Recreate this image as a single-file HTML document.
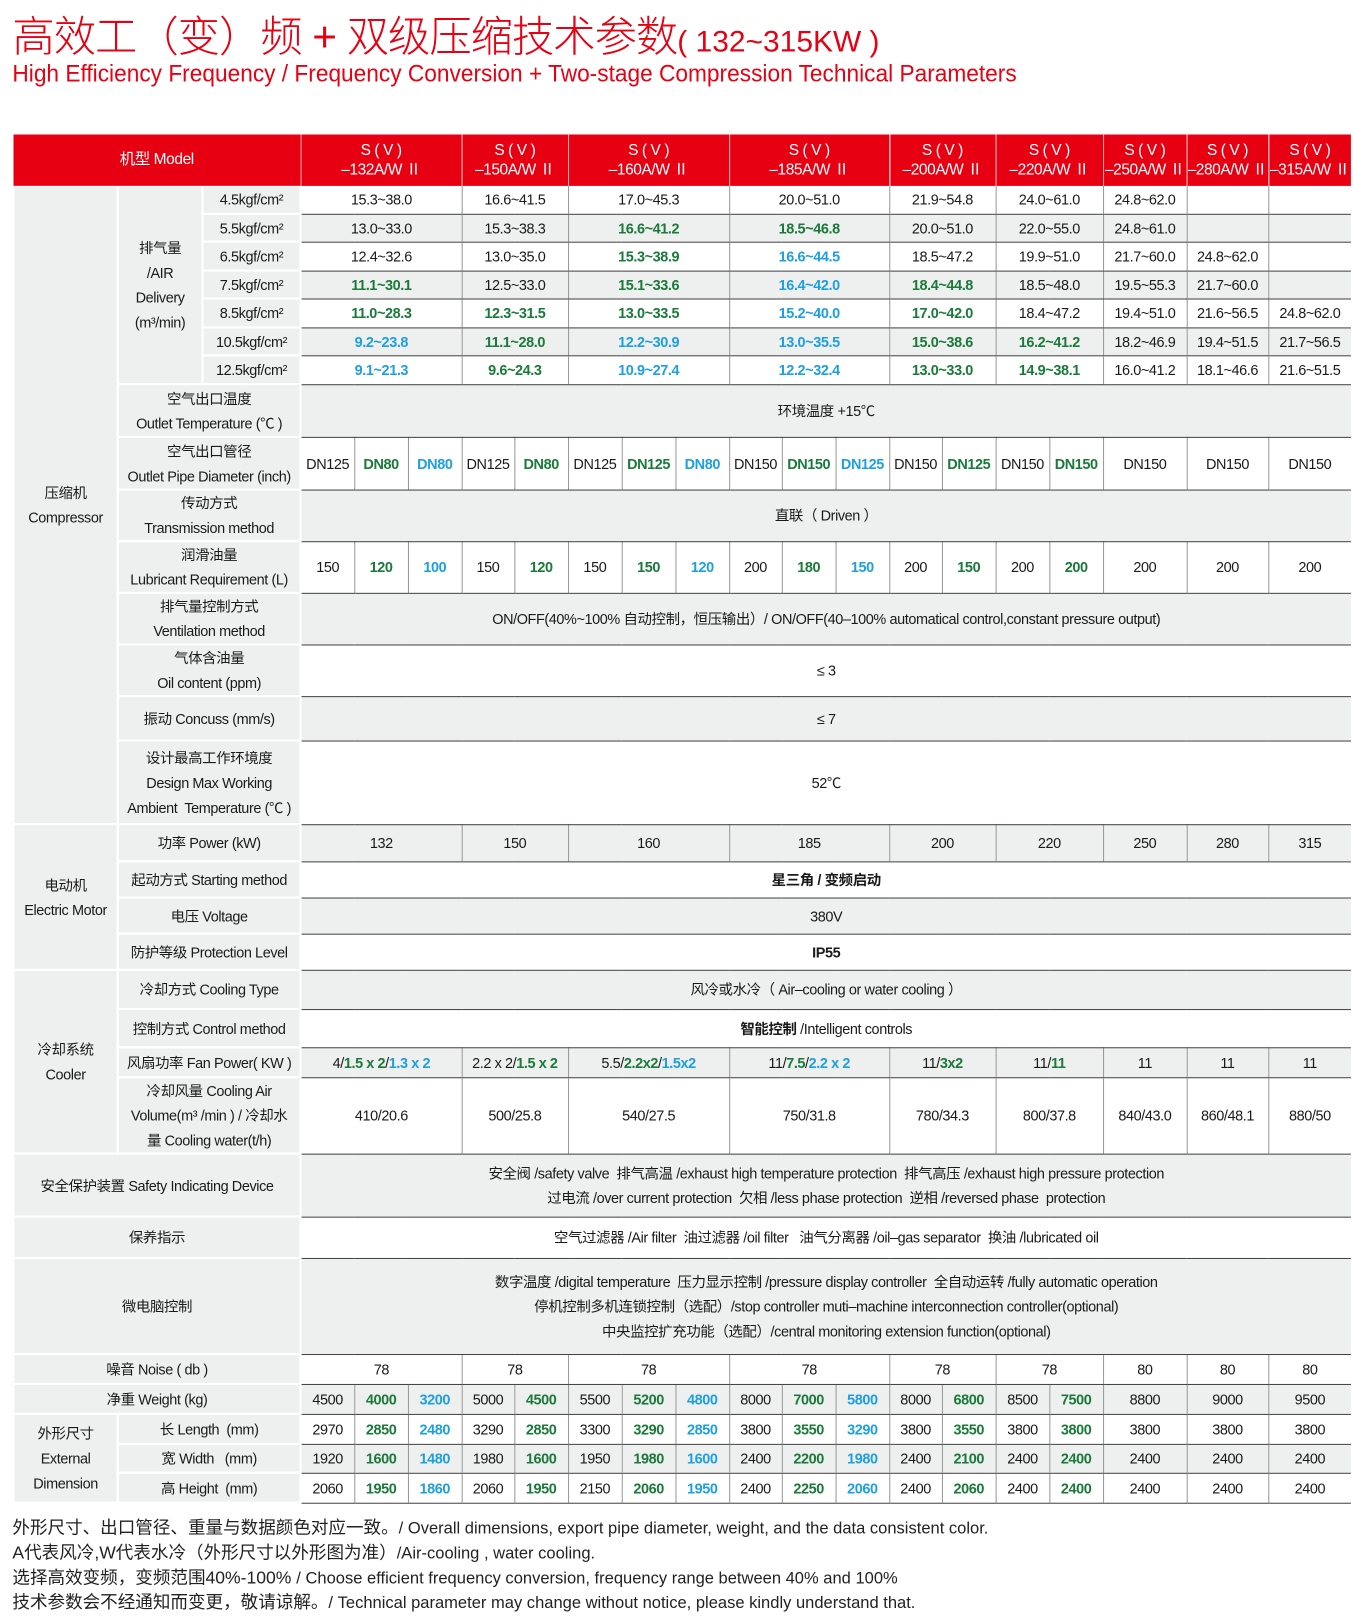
<!DOCTYPE html>
<html><head><meta charset="utf-8">
<style>
*{margin:0;padding:0;box-sizing:border-box}
html,body{width:1353px;height:1622px;background:#fff;overflow:hidden}
#w{position:absolute;left:0;top:0;width:1310px;height:1570px;transform:scale(1.0328);transform-origin:0 0;font-family:"Liberation Sans","Noto Sans CJK SC",sans-serif;color:#1a1a1a}
.t1{position:absolute;left:12px;top:2px;font-size:41px;color:#e60012;white-space:nowrap;font-family:"Liberation Sans","Noto Sans CJK SC",sans-serif;font-weight:300;letter-spacing:-1px}
.t1 small{font-size:29px;letter-spacing:0;font-weight:normal}
.t2{position:absolute;left:12px;top:58px;font-size:23px;color:#e60012;white-space:nowrap;transform:scaleX(0.955);transform-origin:0 0}
table{position:absolute;left:12px;top:130px;border-collapse:collapse;table-layout:fixed;width:1295px}
td{text-align:center;vertical-align:middle;font-size:14px;letter-spacing:-0.4px;line-height:24px;padding:0;white-space:nowrap;overflow:hidden}
td.l{background:#eeefef;border:2px solid #fff;border-top:1.5px solid #fff}
td.d{border-bottom:1.5px solid #444;border-left:1px solid #999}
tr.gr td.d{background:#eeefef}
tr.h td{background:#e60012;color:#fff;border-left:1px solid #f5a0a0;line-height:19px;font-size:15px}
tr.h td:first-child{border-left:none}
.g{color:#1a7a3a;font-weight:bold}
.b{color:#1ea0e0;font-weight:bold}
.f{position:absolute;left:12px;font-size:17px;white-space:nowrap;color:#222}
.f span{font-size:16px}
</style></head><body><div id="w">
<div class="t1">高效工（变）频 + 双级压缩技术参数<small>( 132~315KW )</small></div>
<div class="t2">High Efficiency Frequency / Frequency Conversion + Two-stage Compression Technical Parameters</div>
<table>
<colgroup><col style="width:101px"><col style="width:82px"><col style="width:95px"><col style="width:52px"><col style="width:52px"><col style="width:52px"><col style="width:51px"><col style="width:52px"><col style="width:52px"><col style="width:52px"><col style="width:52px"><col style="width:51px"><col style="width:52px"><col style="width:52px"><col style="width:51px"><col style="width:52px"><col style="width:52px"><col style="width:52px"><col style="width:81px"><col style="width:79px"><col style="width:80px"></colgroup>
<tr class="h" style="height:50px"><td colspan="3">机型 Model</td><td colspan="3">S ( V )<br>–132A/W Ⅱ</td><td colspan="2">S ( V )<br>–150A/W Ⅱ</td><td colspan="3">S ( V )<br>–160A/W Ⅱ</td><td colspan="3">S ( V )<br>–185A/W Ⅱ</td><td colspan="2">S ( V )<br>–200A/W Ⅱ</td><td colspan="2">S ( V )<br>–220A/W Ⅱ</td><td>S ( V )<br>–250A/W Ⅱ</td><td>S ( V )<br>–280A/W Ⅱ</td><td>S ( V )<br>–315A/W Ⅱ</td></tr>
<tr style="height:27px"><td class="l" rowspan="15">压缩机<br>Compressor</td><td class="l" rowspan="7">排气量<br>/AIR<br>Delivery<br>(m³/min)</td><td class="l">4.5kgf/cm²</td><td class="d" colspan="3">15.3~38.0</td><td class="d" colspan="2">16.6~41.5</td><td class="d" colspan="3">17.0~45.3</td><td class="d" colspan="3">20.0~51.0</td><td class="d" colspan="2">21.9~54.8</td><td class="d" colspan="2">24.0~61.0</td><td class="d">24.8~62.0</td><td class="d"></td><td class="d"></td></tr>
<tr class="gr" style="height:27px"><td class="l">5.5kgf/cm²</td><td class="d" colspan="3">13.0~33.0</td><td class="d" colspan="2">15.3~38.3</td><td class="d g" colspan="3">16.6~41.2</td><td class="d g" colspan="3">18.5~46.8</td><td class="d" colspan="2">20.0~51.0</td><td class="d" colspan="2">22.0~55.0</td><td class="d">24.8~61.0</td><td class="d"></td><td class="d"></td></tr>
<tr style="height:28px"><td class="l">6.5kgf/cm²</td><td class="d" colspan="3">12.4~32.6</td><td class="d" colspan="2">13.0~35.0</td><td class="d g" colspan="3">15.3~38.9</td><td class="d b" colspan="3">16.6~44.5</td><td class="d" colspan="2">18.5~47.2</td><td class="d" colspan="2">19.9~51.0</td><td class="d">21.7~60.0</td><td class="d">24.8~62.0</td><td class="d"></td></tr>
<tr class="gr" style="height:27px"><td class="l">7.5kgf/cm²</td><td class="d g" colspan="3">11.1~30.1</td><td class="d" colspan="2">12.5~33.0</td><td class="d g" colspan="3">15.1~33.6</td><td class="d b" colspan="3">16.4~42.0</td><td class="d g" colspan="2">18.4~44.8</td><td class="d" colspan="2">18.5~48.0</td><td class="d">19.5~55.3</td><td class="d">21.7~60.0</td><td class="d"></td></tr>
<tr style="height:28px"><td class="l">8.5kgf/cm²</td><td class="d g" colspan="3">11.0~28.3</td><td class="d g" colspan="2">12.3~31.5</td><td class="d g" colspan="3">13.0~33.5</td><td class="d b" colspan="3">15.2~40.0</td><td class="d g" colspan="2">17.0~42.0</td><td class="d" colspan="2">18.4~47.2</td><td class="d">19.4~51.0</td><td class="d">21.6~56.5</td><td class="d">24.8~62.0</td></tr>
<tr class="gr" style="height:27px"><td class="l">10.5kgf/cm²</td><td class="d b" colspan="3">9.2~23.8</td><td class="d g" colspan="2">11.1~28.0</td><td class="d b" colspan="3">12.2~30.9</td><td class="d b" colspan="3">13.0~35.5</td><td class="d g" colspan="2">15.0~38.6</td><td class="d g" colspan="2">16.2~41.2</td><td class="d">18.2~46.9</td><td class="d">19.4~51.5</td><td class="d">21.7~56.5</td></tr>
<tr style="height:28px"><td class="l">12.5kgf/cm²</td><td class="d b" colspan="3">9.1~21.3</td><td class="d g" colspan="2">9.6~24.3</td><td class="d b" colspan="3">10.9~27.4</td><td class="d b" colspan="3">12.2~32.4</td><td class="d g" colspan="2">13.0~33.0</td><td class="d g" colspan="2">14.9~38.1</td><td class="d">16.0~41.2</td><td class="d">18.1~46.6</td><td class="d">21.6~51.5</td></tr>
<tr class="gr" style="height:51px"><td class="l" colspan="2">空气出口温度<br>Outlet Temperature (℃ )</td><td class="d" colspan="18">环境温度 +15℃</td></tr>
<tr style="height:51px"><td class="l" colspan="2">空气出口管径<br>Outlet Pipe Diameter (inch)</td><td class="d">DN125</td><td class="d g">DN80</td><td class="d b">DN80</td><td class="d">DN125</td><td class="d g">DN80</td><td class="d">DN125</td><td class="d g">DN125</td><td class="d b">DN80</td><td class="d">DN150</td><td class="d g">DN150</td><td class="d b">DN125</td><td class="d">DN150</td><td class="d g">DN125</td><td class="d">DN150</td><td class="d g">DN150</td><td class="d">DN150</td><td class="d">DN150</td><td class="d">DN150</td></tr>
<tr class="gr" style="height:50px"><td class="l" colspan="2">传动方式<br>Transmission method</td><td class="d" colspan="18">直联（ Driven ）</td></tr>
<tr style="height:50px"><td class="l" colspan="2">润滑油量<br>Lubricant Requirement (L)</td><td class="d">150</td><td class="d g">120</td><td class="d b">100</td><td class="d">150</td><td class="d g">120</td><td class="d">150</td><td class="d g">150</td><td class="d b">120</td><td class="d">200</td><td class="d g">180</td><td class="d b">150</td><td class="d">200</td><td class="d g">150</td><td class="d">200</td><td class="d g">200</td><td class="d">200</td><td class="d">200</td><td class="d">200</td></tr>
<tr class="gr" style="height:50px"><td class="l" colspan="2">排气量控制方式<br>Ventilation method</td><td class="d" colspan="18">ON/OFF(40%~100% 自动控制，恒压输出）/ ON/OFF(40–100% automatical control,constant pressure output)</td></tr>
<tr style="height:48px"><td class="l" colspan="2">气体含油量<br>Oil content (ppm)</td><td class="d" colspan="18">≤ 3</td></tr>
<tr class="gr" style="height:43px"><td class="l" colspan="2">振动 Concuss (mm/s)</td><td class="d" colspan="18">≤ 7</td></tr>
<tr style="height:81px"><td class="l" colspan="2">设计最高工作环境度<br>Design Max Working<br>Ambient&nbsp; Temperature (℃ )</td><td class="d" colspan="18">52℃</td></tr>
<tr class="gr" style="height:36px"><td class="l" rowspan="4">电动机<br>Electric Motor</td><td class="l" colspan="2">功率 Power (kW)</td><td class="d" colspan="3">132</td><td class="d" colspan="2">150</td><td class="d" colspan="3">160</td><td class="d" colspan="3">185</td><td class="d" colspan="2">200</td><td class="d" colspan="2">220</td><td class="d">250</td><td class="d">280</td><td class="d">315</td></tr>
<tr style="height:35px"><td class="l" colspan="2">起动方式 Starting method</td><td class="d" colspan="18"><b>星三角 / 变频启动</b></td></tr>
<tr class="gr" style="height:35px"><td class="l" colspan="2">电压 Voltage</td><td class="d" colspan="18">380V</td></tr>
<tr style="height:35px"><td class="l" colspan="2">防护等级 Protection Level</td><td class="d" colspan="18"><b>IP55</b></td></tr>
<tr class="gr" style="height:38px"><td class="l" rowspan="4">冷却系统<br>Cooler</td><td class="l" colspan="2">冷却方式 Cooling Type</td><td class="d" colspan="18">风冷或水冷（ Air–cooling or water cooling ）</td></tr>
<tr style="height:37px"><td class="l" colspan="2">控制方式 Control method</td><td class="d" colspan="18"><b>智能控制</b> /Intelligent controls</td></tr>
<tr class="gr" style="height:29px"><td class="l" colspan="2">风扇功率 Fan Power( KW )</td><td class="d" colspan="3">4/<span class="g">1.5 x 2</span>/<span class="b">1.3 x 2</span></td><td class="d" colspan="2">2.2 x 2/<span class="g">1.5 x 2</span></td><td class="d" colspan="3">5.5/<span class="g">2.2x2</span>/<span class="b">1.5x2</span></td><td class="d" colspan="3">11/<span class="g">7.5</span>/<span class="b">2.2 x 2</span></td><td class="d" colspan="2">11/<span class="g">3x2</span></td><td class="d" colspan="2">11/<span class="g">11</span></td><td class="d">11</td><td class="d">11</td><td class="d">11</td></tr>
<tr style="height:73px"><td class="l" colspan="2">冷却风量 Cooling Air<br>Volume(m³ /min ) / 冷却水<br>量 Cooling water(t/h)</td><td class="d" colspan="3">410/20.6</td><td class="d" colspan="2">500/25.8</td><td class="d" colspan="3">540/27.5</td><td class="d" colspan="3">750/31.8</td><td class="d" colspan="2">780/34.3</td><td class="d" colspan="2">800/37.8</td><td class="d">840/43.0</td><td class="d">860/48.1</td><td class="d">880/50</td></tr>
<tr class="gr" style="height:61px"><td class="l" colspan="3">安全保护装置 Safety Indicating Device</td><td class="d" colspan="18">安全阀 /safety valve&nbsp; 排气高温 /exhaust high temperature protection&nbsp; 排气高压 /exhaust high pressure protection<br>过电流 /over current protection&nbsp; 欠相 /less phase protection&nbsp; 逆相 /reversed phase&nbsp; protection</td></tr>
<tr style="height:40px"><td class="l" colspan="3">保养指示</td><td class="d" colspan="18">空气过滤器 /Air filter&nbsp; 油过滤器 /oil filter&nbsp;&nbsp; 油气分离器 /oil–gas separator&nbsp; 换油 /lubricated oil</td></tr>
<tr class="gr" style="height:93px"><td class="l" colspan="3">微电脑控制</td><td class="d" colspan="18">数字温度 /digital temperature&nbsp; 压力显示控制 /pressure display controller&nbsp; 全自动运转 /fully automatic operation<br>停机控制多机连锁控制（选配）/stop controller muti–machine interconnection controller(optional)<br>中央监控扩充功能（选配）/central monitoring extension function(optional)</td></tr>
<tr style="height:29px"><td class="l" colspan="3">噪音 Noise ( db )</td><td class="d" colspan="3">78</td><td class="d" colspan="2">78</td><td class="d" colspan="3">78</td><td class="d" colspan="3">78</td><td class="d" colspan="2">78</td><td class="d" colspan="2">78</td><td class="d">80</td><td class="d">80</td><td class="d">80</td></tr>
<tr class="gr" style="height:29px"><td class="l" colspan="3">净重 Weight (kg)</td><td class="d">4500</td><td class="d g">4000</td><td class="d b">3200</td><td class="d">5000</td><td class="d g">4500</td><td class="d">5500</td><td class="d g">5200</td><td class="d b">4800</td><td class="d">8000</td><td class="d g">7000</td><td class="d b">5800</td><td class="d">8000</td><td class="d g">6800</td><td class="d">8500</td><td class="d g">7500</td><td class="d">8800</td><td class="d">9000</td><td class="d">9500</td></tr>
<tr style="height:29px"><td class="l" rowspan="3">外形尺寸<br>External<br>Dimension</td><td class="l" colspan="2">长 Length&nbsp; (mm)</td><td class="d">2970</td><td class="d g">2850</td><td class="d b">2480</td><td class="d">3290</td><td class="d g">2850</td><td class="d">3300</td><td class="d g">3290</td><td class="d b">2850</td><td class="d">3800</td><td class="d g">3550</td><td class="d b">3290</td><td class="d">3800</td><td class="d g">3550</td><td class="d">3800</td><td class="d g">3800</td><td class="d">3800</td><td class="d">3800</td><td class="d">3800</td></tr>
<tr class="gr" style="height:28px"><td class="l" colspan="2">宽 Width&nbsp;&nbsp; (mm)</td><td class="d">1920</td><td class="d g">1600</td><td class="d b">1480</td><td class="d">1980</td><td class="d g">1600</td><td class="d">1950</td><td class="d g">1980</td><td class="d b">1600</td><td class="d">2400</td><td class="d g">2200</td><td class="d b">1980</td><td class="d">2400</td><td class="d g">2100</td><td class="d">2400</td><td class="d g">2400</td><td class="d">2400</td><td class="d">2400</td><td class="d">2400</td></tr>
<tr style="height:29px"><td class="l" colspan="2">高 Height&nbsp; (mm)</td><td class="d">2060</td><td class="d g">1950</td><td class="d b">1860</td><td class="d">2060</td><td class="d g">1950</td><td class="d">2150</td><td class="d g">2060</td><td class="d b">1950</td><td class="d">2400</td><td class="d g">2250</td><td class="d b">2060</td><td class="d">2400</td><td class="d g">2060</td><td class="d">2400</td><td class="d g">2400</td><td class="d">2400</td><td class="d">2400</td><td class="d">2400</td></tr>
</table>
<div class="f" style="top:1465px">外形尺寸、出口管径、重量与数据颜色对应一致。<span>/ Overall dimensions, export pipe diameter, weight, and the data consistent color.</span></div>
<div class="f" style="top:1489px">A代表风冷,W代表水冷（外形尺寸以外形图为准）<span>/Air-cooling , water cooling.</span></div>
<div class="f" style="top:1513px">选择高效变频，变频范围40%-100% <span>/ Choose efficient frequency conversion, frequency range between 40% and 100%</span></div>
<div class="f" style="top:1537px">技术参数会不经通知而变更，敬请谅解。<span>/ Technical parameter may change without notice, please kindly understand that.</span></div>
</div></body></html>
